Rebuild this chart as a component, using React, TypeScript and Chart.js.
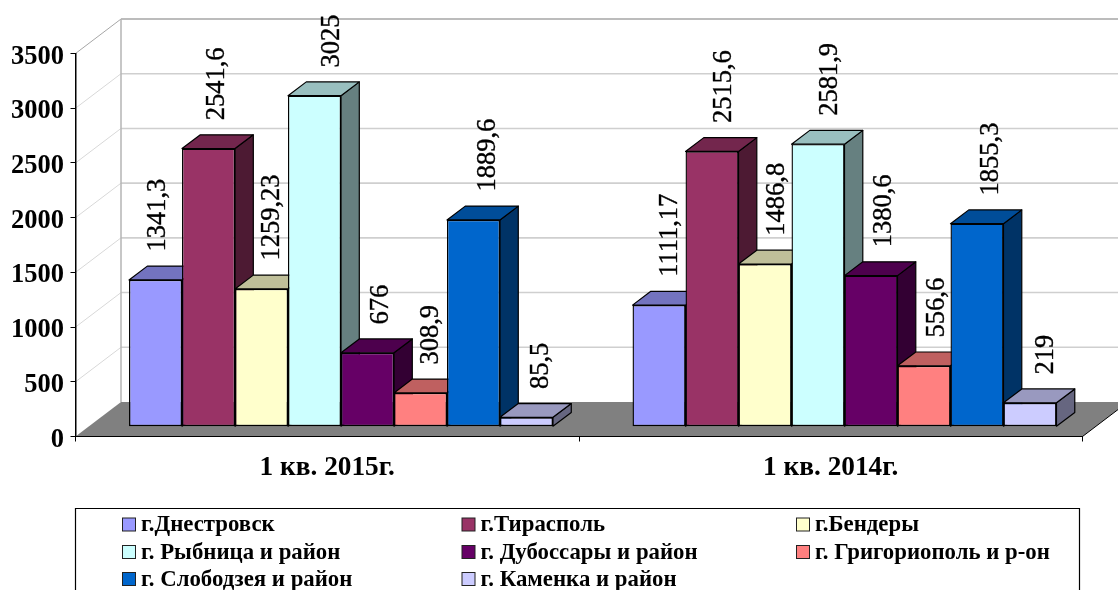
import React, { useEffect, useRef } from "react";
import { Chart, registerables } from "chart.js";

Chart.register(...registerables);

const categories = ["1 кв. 2015г.", "1 кв. 2014г."];
const seriesNames = [
  "г.Днестровск",
  "г.Тирасполь",
  "г.Бендеры",
  "г. Рыбница и район",
  "г. Дубоссары и район",
  "г. Григориополь и р-он",
  "г. Слободзея и район",
  "г. Каменка и район",
];
const dnestrovsk = [1341.3, 1111.17];
const tiraspol = [2541.6, 2515.6];
const bendery = [1259.23, 1486.8];
const rybnitsa = [3025, 2581.9];
const dubossary = [676, 1380.6];
const grigoriopol = [308.9, 556.6];
const slobodzeya = [1889.6, 1855.3];
const kamenka = [85.5, 219];
const seriesValues = [dnestrovsk, tiraspol, bendery, rybnitsa, dubossary, grigoriopol, slobodzeya, kamenka];
const seriesColors = [
  [153, 153, 255],
  [153, 51, 102],
  [255, 255, 204],
  [204, 255, 255],
  [102, 0, 102],
  [255, 128, 128],
  [0, 102, 204],
  [204, 204, 255],
];

// Horizontal nudge of each value label from the centre of its bar's front face.
const labelNudges = [
  [2, 10],
  [7.5, 11],
  [10, 11],
  [17, 11],
  [13, 12],
  [10, 12],
  [14, 13],
  [14, 15],
];

const FONT = '"Liberation Serif", serif';
const rgb = (c: number[], k = 1) => `rgb(${c.map((v) => Math.round(v * k)).join(",")})`;

// 3-D projection of the classic spreadsheet chart
const WALL = { dx: 45.5, dy: -34.5 };
const FRONT = { dx: 13.75, dy: -9.8 };
const DEPTH = { dx: 18.3, dy: -13.8 };

const poly = (ctx: CanvasRenderingContext2D, pts: number[][], fill: string, stroke?: string, lw = 1) => {
  ctx.beginPath();
  pts.forEach(([x, y], i) => (i ? ctx.lineTo(x, y) : ctx.moveTo(x, y)));
  ctx.closePath();
  ctx.fillStyle = fill;
  ctx.fill();
  if (stroke) {
    ctx.strokeStyle = stroke;
    ctx.lineWidth = lw;
    ctx.stroke();
  }
};

const roomPlugin = {
  id: "room",
  beforeDraw(chart: any) {
    const { ctx, chartArea: a, scales } = chart;
    const y = scales.y;
    ctx.save();
    y.ticks.forEach((t: any) => {
      const py = y.getPixelForValue(t.value);
      if (t.value > 0) {
        const top = t.value === 3500;
        ctx.strokeStyle = top ? "#a6a6a6" : "#d8d8d8";
        ctx.lineWidth = 1;
        ctx.beginPath();
        ctx.moveTo(a.left, py);
        ctx.lineTo(a.left + WALL.dx, py + WALL.dy);
        ctx.stroke();
        ctx.strokeStyle = top ? "#a6a6a6" : "#cfcfcf";
        ctx.lineWidth = 1.6;
        ctx.beginPath();
        ctx.moveTo(a.left + WALL.dx, py + WALL.dy);
        ctx.lineTo(a.right + WALL.dx, py + WALL.dy);
        ctx.stroke();
      }
    });
    ctx.strokeStyle = "#b4b4b4";
    ctx.lineWidth = 1.5;
    ctx.beginPath();
    ctx.moveTo(a.left + WALL.dx, a.top + WALL.dy);
    ctx.lineTo(a.left + WALL.dx, a.bottom + WALL.dy);
    ctx.stroke();
    poly(
      ctx,
      [
        [a.left, a.bottom],
        [a.left + WALL.dx, a.bottom + WALL.dy],
        [a.right + WALL.dx, a.bottom + WALL.dy],
        [a.right, a.bottom],
      ],
      "#808080"
    );
    ctx.strokeStyle = "#000";
    ctx.lineWidth = 1;
    ctx.beginPath();
    ctx.moveTo(a.right, a.bottom);
    ctx.lineTo(a.right + WALL.dx, a.bottom + WALL.dy);
    ctx.stroke();
    ctx.restore();
  },
  beforeDatasetsDraw(chart: any) {
    const ctx = chart.ctx;
    ctx.save();
    ctx.translate(FRONT.dx, FRONT.dy);
    ctx.lineJoin = "round";
    seriesValues.forEach((_, d) => {
      chart.getDatasetMeta(d).data.forEach((bar: any) => {
        const { x, y, base, width } = bar.getProps(["x", "y", "base", "width"], true);
        const l = x - width / 2;
        const r = x + width / 2;
        poly(
          ctx,
          [
            [r, y],
            [r + DEPTH.dx, y + DEPTH.dy],
            [r + DEPTH.dx, base + DEPTH.dy],
            [r, base],
          ],
          rgb(seriesColors[d], 0.5),
          "#000",
          1.2
        );
        poly(
          ctx,
          [
            [l, y],
            [l + DEPTH.dx, y + DEPTH.dy],
            [r + DEPTH.dx, y + DEPTH.dy],
            [r, y],
          ],
          rgb(seriesColors[d], 0.75),
          "#000",
          1.2
        );
      });
    });
    ctx.restore();
    ctx.save();
    ctx.translate(FRONT.dx, FRONT.dy);
  },
  afterDatasetsDraw(chart: any) {
    const ctx = chart.ctx;
    ctx.restore();
    ctx.save();
    ctx.fillStyle = "#000";
    ctx.strokeStyle = "#000";
    ctx.lineWidth = 0.35;
    ctx.font = `26.5px ${FONT}`;
    ctx.textAlign = "left";
    ctx.textBaseline = "middle";
    seriesValues.forEach((vals, d) => {
      chart.getDatasetMeta(d).data.forEach((bar: any, i: number) => {
        const { x, y } = bar.getProps(["x", "y"], true);
        const text = String(vals[i]).replace(".", ",");
        ctx.save();
        ctx.translate(x + FRONT.dx + labelNudges[d][i], y + FRONT.dy + DEPTH.dy - 14.5);
        ctx.rotate(-Math.PI / 2);
        ctx.fillText(text, 0, 1);
        ctx.strokeText(text, 0, 1);
        ctx.restore();
      });
    });
    ctx.restore();
  },
  afterDraw(chart: any) {
    const ctx = chart.ctx;
    ctx.save();
    // value axis labels
    const yScale = chart.scales.y;
    ctx.font = `bold 26.5px ${FONT}`;
    ctx.fillStyle = "#000";
    ctx.textAlign = "right";
    ctx.textBaseline = "alphabetic";
    yScale.ticks.forEach((t: any) => {
      ctx.fillText(String(t.value), chart.chartArea.left - 11.5, yScale.getPixelForValue(t.value) + 10);
    });
    // legend table
    ctx.strokeStyle = "#000";
    ctx.lineWidth = 1.2;
    ctx.beginPath();
    ctx.moveTo(75.5, 592);
    ctx.lineTo(75.5, 508.5);
    ctx.lineTo(1079.5, 508.5);
    ctx.lineTo(1079.5, 592);
    ctx.stroke();
    const colX = [122.5, 462, 796.5];
    const rowY = [524.5, 552, 579];
    ctx.font = `bold 22.8px ${FONT}`;
    ctx.textBaseline = "middle";
    ctx.textAlign = "left";
    seriesNames.forEach((name, i) => {
      const cx = colX[i % 3];
      const cy = rowY[Math.floor(i / 3)];
      ctx.fillStyle = rgb(seriesColors[i]);
      ctx.fillRect(cx, cy - 6.5, 13, 13);
      ctx.strokeStyle = "#222";
      ctx.lineWidth = 1;
      ctx.strokeRect(cx, cy - 6.5, 13, 13);
      ctx.fillStyle = "#000";
      ctx.fillText(name, cx + 18.5, cy + 1);
    });
    ctx.restore();
  },
};

export default function App() {
  const ref = useRef<HTMLCanvasElement>(null);
  useEffect(() => {
    document.body.style.margin = "0";
    const chart = new Chart(ref.current as HTMLCanvasElement, {
      type: "bar",
      data: {
        labels: categories,
        datasets: seriesNames.map((label, i) => ({
          label,
          data: seriesValues[i],
          backgroundColor: rgb(seriesColors[i]),
          borderColor: "#000",
          borderWidth: 1.4,
          borderSkipped: false,
          clip: false,
          categoryPercentage: 0.842,
          barPercentage: 1,
        })),
      },
      options: {
        responsive: false,
        animation: false,
        layout: { autoPadding: false, padding: { top: 53.5, left: 0, right: 35.5, bottom: 0 } },
        plugins: { legend: { display: false }, tooltip: { enabled: false }, title: { display: false } },
        scales: {
          x: {
            afterFit: (s: any) => {
              s.height = 153.5;
            },
            border: { color: "#000", width: 1 },
            grid: { drawOnChartArea: false, color: "#000", tickLength: 5, offset: true },
            ticks: {
              color: "#000",
              padding: 10,
              maxRotation: 0,
              font: { family: FONT, weight: "bold", size: 27.3 },
            },
          },
          y: {
            min: 0,
            max: 3500,
            afterFit: (s: any) => {
              s.width = 75.5;
            },
            border: { color: "#000", width: 1.5 },
            grid: { drawOnChartArea: false, color: "#000", tickLength: 5 },
            ticks: {
              stepSize: 500,
              callback: () => "",
            },
          },
        },
      },
      plugins: [roomPlugin],
    } as any);
    return () => chart.destroy();
  }, []);
  return (
    <canvas
      ref={ref}
      width={1118}
      height={590}
      style={{ display: "block", position: "absolute", left: 0, top: 0, width: 1118, height: 590 }}
    />
  );
}
